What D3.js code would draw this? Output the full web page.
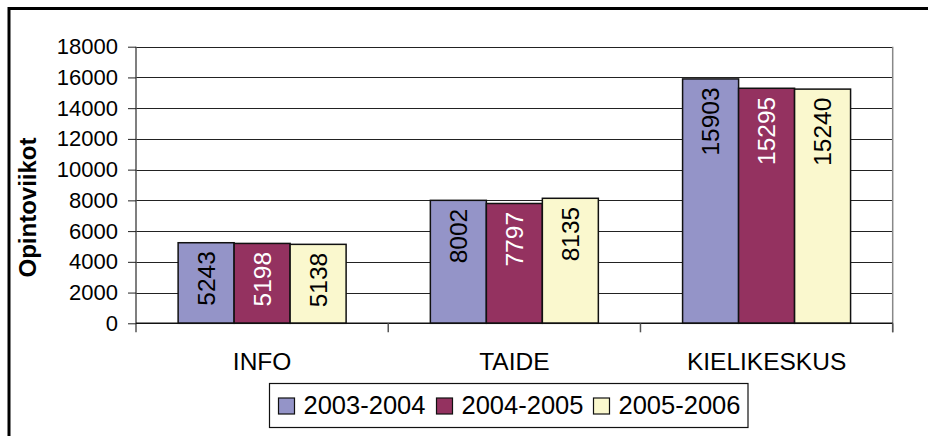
<!DOCTYPE html>
<html>
<head>
<meta charset="utf-8">
<script src="https://cdn.jsdelivr.net/npm/d3@7"></script>
<style>
  body { margin: 0; background: #fff; }
  svg { display: block; font-family: "Liberation Sans", Arial, sans-serif; }
</style>
</head>
<body>
<div id="chart"></div>
<script>
const categories = ["INFO", "TAIDE", "KIELIKESKUS"];
const seriesNames = ["2003-2004", "2004-2005", "2005-2006"];
const values2003 = [5243, 8002, 15903];
const values2004 = [5198, 7797, 15295];
const values2005 = [5138, 8135, 15240];
const yTicks = [0, 2000, 4000, 6000, 8000, 10000, 12000, 14000, 16000, 18000];

const seriesValues = [values2003, values2004, values2005];
const colors = ["#9494c8", "#943260", "#faf8ce"];
const labelColors = ["#000", "#fff", "#000"];

const W = 928, H = 436;
const plot = { left: 136, right: 892.7, top: 46.7, bottom: 323.3 };

const svg = d3.select("#chart").append("svg").attr("width", W).attr("height", H);

// outer frame (runs off the right and bottom edges)
svg.append("rect")
    .attr("x", 9).attr("y", 8.5).attr("width", 960).attr("height", 460)
    .attr("fill", "none").attr("stroke", "#000").attr("stroke-width", 3);

const y = d3.scaleLinear().domain([0, 18000]).range([plot.bottom, plot.top]);
const x = d3.scaleBand().domain(categories).range([plot.left, plot.right])
    .paddingInner(0.334).paddingOuter(0.167);
const xs = d3.scaleBand().domain(seriesNames).range([0, x.bandwidth()]);

// gridlines
svg.append("g").selectAll("line").data(yTicks.filter(d => d > 0)).join("line")
    .attr("x1", plot.left).attr("x2", plot.right)
    .attr("y1", d => Math.round(y(d)) + 0.5).attr("y2", d => Math.round(y(d)) + 0.5)
    .attr("stroke", "#222").attr("stroke-width", 1);

// right border of plot
svg.append("line")
    .attr("x1", plot.right).attr("x2", plot.right)
    .attr("y1", plot.top).attr("y2", plot.bottom + 9)
    .attr("stroke", "#888").attr("stroke-width", 1.5);

// y axis
const yAxis = svg.append("g").attr("transform", `translate(${plot.left},0)`)
    .call(d3.axisLeft(y).tickValues(yTicks).tickSize(8).tickPadding(10).tickFormat(d3.format("d")));
yAxis.select(".domain").attr("stroke", "#555").attr("stroke-width", 1.5)
    .attr("d", `M0,${plot.top}V${plot.bottom + 9}`);
yAxis.selectAll(".tick line").attr("stroke", "#222");
yAxis.selectAll(".tick text").attr("font-size", 22).attr("fill", "#000")
    .attr("font-family", "Liberation Sans, Arial, sans-serif");

// bars
const groups = svg.append("g").selectAll("g").data(categories).join("g")
    .attr("transform", d => `translate(${x(d)},0)`);

groups.selectAll("rect")
    .data((c, i) => seriesNames.map((s, j) => ({ s, j, v: seriesValues[j][i] })))
    .join("rect")
    .attr("x", d => xs(d.s)).attr("width", xs.bandwidth())
    .attr("y", d => y(d.v)).attr("height", d => y(0) - y(d.v))
    .attr("fill", d => colors[d.j]).attr("stroke", "#111").attr("stroke-width", 1.5);

groups.selectAll("text")
    .data((c, i) => seriesNames.map((s, j) => ({ s, j, v: seriesValues[j][i] })))
    .join("text")
    .attr("transform", d => `translate(${xs(d.s) + xs.bandwidth() / 2},${y(d.v) + 8.5}) rotate(-90)`)
    .attr("text-anchor", "end").attr("dy", "0.35em")
    .attr("font-size", 24.5).attr("fill", d => labelColors[d.j])
    .text(d => d.v);

// x axis line and ticks
svg.append("line")
    .attr("x1", plot.left).attr("x2", plot.right)
    .attr("y1", plot.bottom).attr("y2", plot.bottom)
    .attr("stroke", "#111").attr("stroke-width", 1.5);
const catEdges = categories.map(c => x(c) + x.bandwidth() + x.step() * x.paddingInner() / 2);
svg.append("g").selectAll("line").data(catEdges).join("line")
    .attr("x1", d => d).attr("x2", d => d)
    .attr("y1", plot.bottom).attr("y2", plot.bottom + 9)
    .attr("stroke", "#555").attr("stroke-width", 1.5);

svg.append("g").selectAll("text").data(categories).join("text")
    .attr("x", d => x(d) + x.bandwidth() / 2).attr("y", 369.5)
    .attr("text-anchor", "middle").attr("font-size", 24.5).attr("fill", "#000")
    .text(d => d);

// axis title
svg.append("text")
    .attr("transform", "translate(28,207.5) rotate(-90)")
    .attr("text-anchor", "middle").attr("dy", "0.35em")
    .attr("font-size", 24).attr("font-weight", "bold")
    .attr("font-family", "Liberation Sans, Arial, sans-serif")
    .text("Opintoviikot");

// legend
const legend = svg.append("g");
legend.append("rect")
    .attr("x", 269.5).attr("y", 383.5).attr("width", 478.5).attr("height", 44)
    .attr("fill", "#fff").attr("stroke", "#111").attr("stroke-width", 1.2);
const itemX = [278.5, 436.5, 593.5];
const items = legend.selectAll("g.item").data(seriesNames).join("g")
    .attr("class", "item").attr("transform", (d, i) => `translate(${itemX[i]},0)`);
items.append("rect")
    .attr("x", 0).attr("y", 398).attr("width", 16).attr("height", 16)
    .attr("fill", (d, i) => colors[i]).attr("stroke", "#111").attr("stroke-width", 1.2);
items.append("text")
    .attr("x", 25).attr("y", 414).attr("font-size", 25.5).attr("fill", "#000")
    .text(d => d);
</script>
</body>
</html>
